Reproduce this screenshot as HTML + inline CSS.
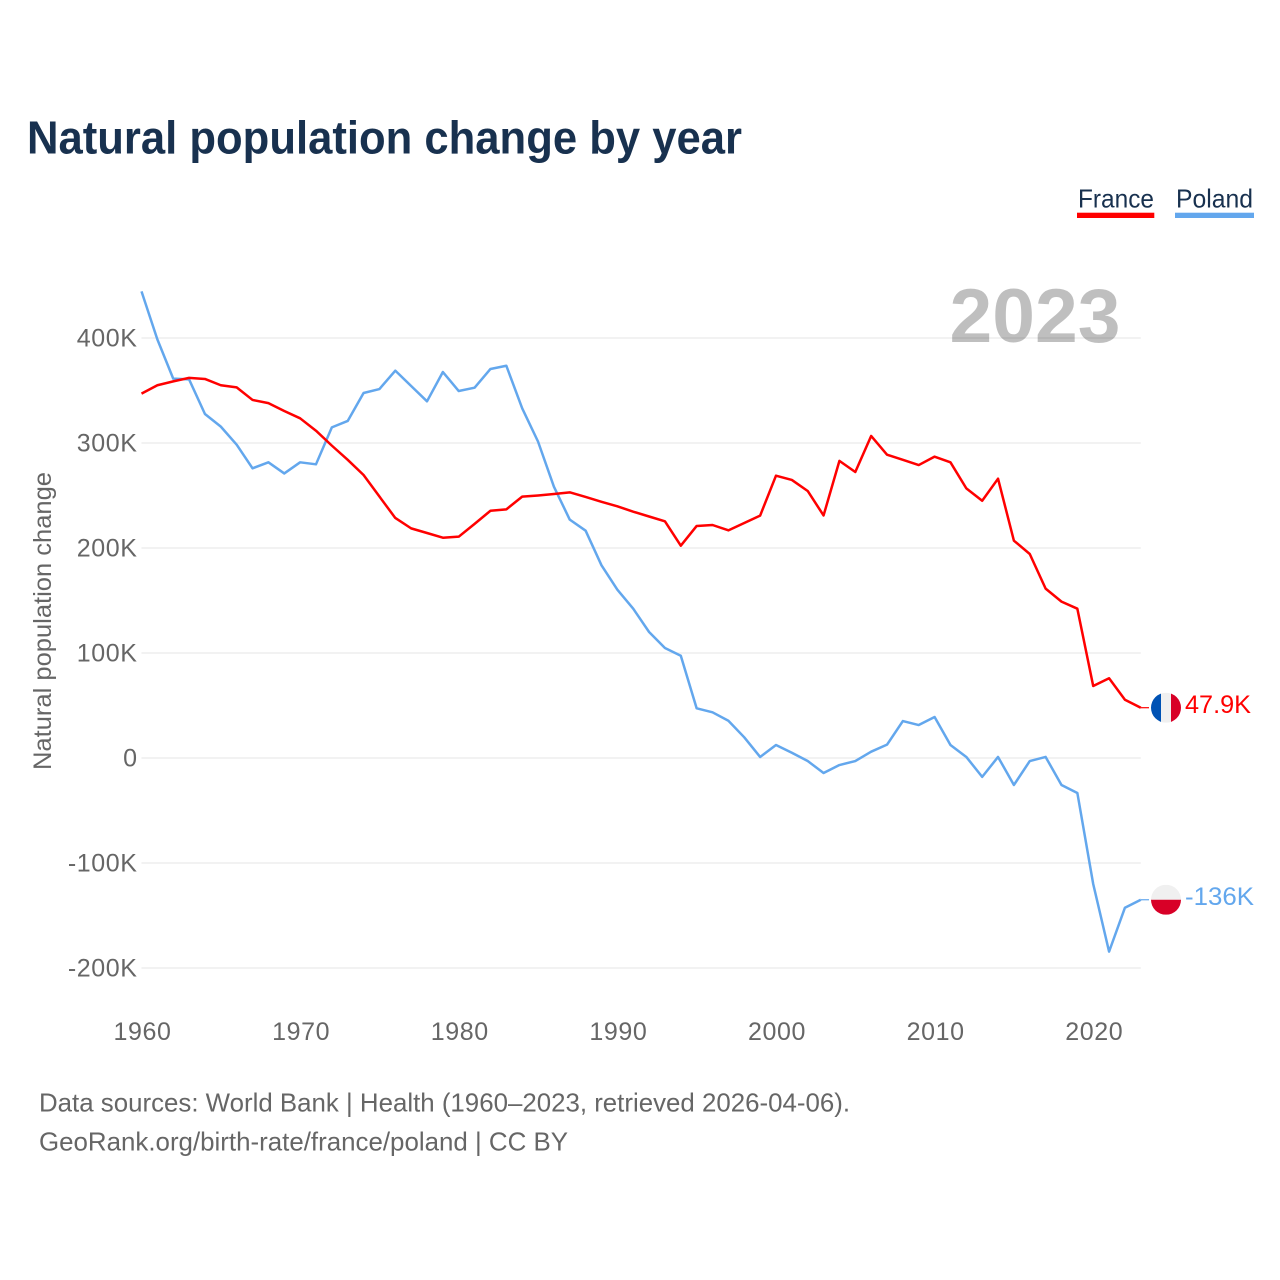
<!DOCTYPE html>
<html lang="en">
<head>
<meta charset="utf-8">
<title>Natural population change by year</title>
<style>
html,body{margin:0;padding:0;background:#fff;}
body{width:1280px;height:1280px;overflow:hidden;}
svg{display:block;}
text{font-family:"Liberation Sans",sans-serif;}
</style>
</head>
<body>
<svg id="chart" xmlns="http://www.w3.org/2000/svg" width="1280" height="1280" viewBox="0 0 1280 1280">
  <text x="27" y="153.5" font-size="46.5" font-weight="700" fill="#18314f" textLength="715" lengthAdjust="spacingAndGlyphs">Natural population change by year</text>

  <g>
    <g>
      <text x="1078" y="207.5" font-size="26" fill="#18314f" textLength="76" lengthAdjust="spacingAndGlyphs">France</text>
      <rect x="1077" y="212.7" width="77.3" height="5.3" fill="#ff0000"></rect>
    </g>
    <g>
      <text x="1176" y="207.5" font-size="26" fill="#18314f" textLength="77" lengthAdjust="spacingAndGlyphs">Poland</text>
      <rect x="1175" y="212.7" width="79" height="5.3" fill="#63a7ed"></rect>
    </g>
  </g>

  <g id="grid"></g>
  <text x="1120.5" y="342" font-size="76" font-weight="700" fill="#000000" fill-opacity="0.25" text-anchor="end" textLength="171" lengthAdjust="spacingAndGlyphs">2023</text>
  <g id="y-ticks"></g>
  <g id="x-ticks"></g>
  <text transform="translate(51,621) rotate(-90)" font-size="25" fill="#666666" text-anchor="middle" textLength="298" lengthAdjust="spacingAndGlyphs">Natural population change</text>
  <g id="series"></g>

  <g>
    <text x="39" y="1111.5" font-size="26" fill="#666666" textLength="811" lengthAdjust="spacingAndGlyphs">Data sources: World Bank | Health (1960–2023, retrieved 2026-04-06).</text>
    <text x="39" y="1150.5" font-size="26" fill="#666666" textLength="529" lengthAdjust="spacingAndGlyphs">GeoRank.org/birth-rate/france/poland | CC BY</text>
  </g>
</svg>
<script>
const years = [1960,1961,1962,1963,1964,1965,1966,1967,1968,1969,1970,1971,1972,1973,1974,1975,1976,1977,1978,1979,1980,1981,1982,1983,1984,1985,1986,1987,1988,1989,1990,1991,1992,1993,1994,1995,1996,1997,1998,1999,2000,2001,2002,2003,2004,2005,2006,2007,2008,2009,2010,2011,2012,2013,2014,2015,2016,2017,2018,2019,2020,2021,2022,2023];
const franceValues = [347,355,358.7,362,361,355,353,341,338,330.5,323.5,311.7,297.5,284,269.5,249,228.6,218.7,214.3,209.8,210.8,223,235.5,236.8,248.9,250,251.4,253,248.6,244,239.7,234.6,230,225.4,202.2,221,221.9,216.8,223.8,230.8,268.9,264.8,254.3,231,283,272.4,306.7,288.9,284,279,287,281.6,256.8,245,266,207,194.3,161.3,148.9,142.2,68.6,75.9,55.5,47.9];
const polandValues = [444.4,398.7,361.3,360.6,327.6,315.6,298.4,275.9,281.6,271,281.6,279.7,314.9,321,347.6,351.4,368.9,354.3,339.7,367.6,349.5,352.7,370.5,373.6,333,301.3,258.4,227,216.5,183.5,160.3,142.2,120,104.8,97.4,47.3,43.5,35.5,19.7,1,12.4,5,-2.9,-14.3,-6.7,-2.9,6,12.7,35.2,31.4,39,12.4,1,-18,1,-25.7,-2.9,1,-25.7,-33.3,-120,-184.4,-142.6,-135];
const yTickValues = [400,300,200,100,0,-100,-200];
const yTickLabels = ["400K","300K","200K","100K","0","-100K","-200K"];
const xTickValues = [1960,1970,1980,1990,2000,2010,2020];
const franceEndLabel = "47.9K";
const polandEndLabel = "-136K";

const SVG_NS = "http://www.w3.org/2000/svg";
const firstYear = years[0];
const lastYear = years[years.length - 1];
const plotLeft = 141.5, plotRight = 1140.8, zeroY = 758, pxPerThousand = 1.05;
function xScale(year) {
  return plotLeft + (year - firstYear) * (plotRight - plotLeft) / (lastYear - firstYear);
}
function yScale(value) {
  return zeroY - value * pxPerThousand;
}
function make(tag, attrs, parent, content) {
  const el = document.createElementNS(SVG_NS, tag);
  for (const key in attrs) el.setAttribute(key, attrs[key]);
  if (content !== undefined) el.textContent = content;
  parent.appendChild(el);
  return el;
}
const gridGroup = document.getElementById("grid");
const yTickGroup = document.getElementById("y-ticks");
const xTickGroup = document.getElementById("x-ticks");
const seriesGroup = document.getElementById("series");

yTickValues.forEach(function (value, i) {
  const line = make("line", {x1: plotLeft, x2: plotRight, y1: yScale(value), y2: yScale(value), stroke: "#eeeeee", "stroke-width": 1.6}, gridGroup);
  
  
  const label = make("text", {x: 137.6, y: yScale(value) + 8.5, "font-size": 25, "letter-spacing": 0.6, fill: "#666666", "text-anchor": "end"}, yTickGroup, yTickLabels[i]);
  
  
});
xTickValues.forEach(function (year) {
  const label = make("text", {x: xScale(year) + 1, y: 1040, "font-size": 25, "letter-spacing": 0.6, fill: "#666666", "text-anchor": "middle"}, xTickGroup, String(year));
  
  
});
function buildPoints(values) {
  return values.map(function (value, i) {
    return xScale(years[i]).toFixed(2) + "," + yScale(value).toFixed(2);
  }).join(" ");
}
const polandLine = make("polyline", {points: buildPoints(polandValues), fill: "none", stroke: "#63a7ed", "stroke-width": 2.5, "stroke-linejoin": "round"}, seriesGroup);


const franceLine = make("polyline", {points: buildPoints(franceValues), fill: "none", stroke: "#ff0000", "stroke-width": 2.5, "stroke-linejoin": "round"}, seriesGroup);



const flagX = 1166, flagR = 15;
const defs = make("defs", {}, seriesGroup);
function addEnd(values, color, text, id, textWidth) {
  const endY = yScale(values[values.length - 1]);
  const connector = make("line", {x1: plotRight, x2: 1149, y1: endY, y2: endY, stroke: color, "stroke-width": 1.2}, seriesGroup);
  
  
  const clip = make("clipPath", {id: id + "-clip"}, defs);
  make("circle", {cx: flagX, cy: endY, r: flagR}, clip);
  const flag = make("g", {"clip-path": "url(#" + id + "-clip)"}, seriesGroup);
  
  
  if (id === "france") {
    make("rect", {x: flagX - flagR, y: endY - flagR, width: 10, height: 30, fill: "#0052b4"}, flag);
    make("rect", {x: flagX - 5, y: endY - flagR, width: 10, height: 30, fill: "#f0f0f0"}, flag);
    make("rect", {x: flagX + 5, y: endY - flagR, width: 10, height: 30, fill: "#d80027"}, flag);
  } else {
    make("rect", {x: flagX - flagR, y: endY - flagR, width: 30, height: 15, fill: "#f0f0f0"}, flag);
    make("rect", {x: flagX - flagR, y: endY, width: 30, height: 15, fill: "#d80027"}, flag);
  }
  const label = make("text", {x: 1185, y: endY + 5.4, "font-size": 25, fill: color, textLength: textWidth, lengthAdjust: "spacingAndGlyphs"}, seriesGroup, text);
  
  
}
addEnd(franceValues, "#ff0000", franceEndLabel, "france", 66);
addEnd(polandValues, "#63a7ed", polandEndLabel, "poland", 69);
</script>
</body>
</html>
